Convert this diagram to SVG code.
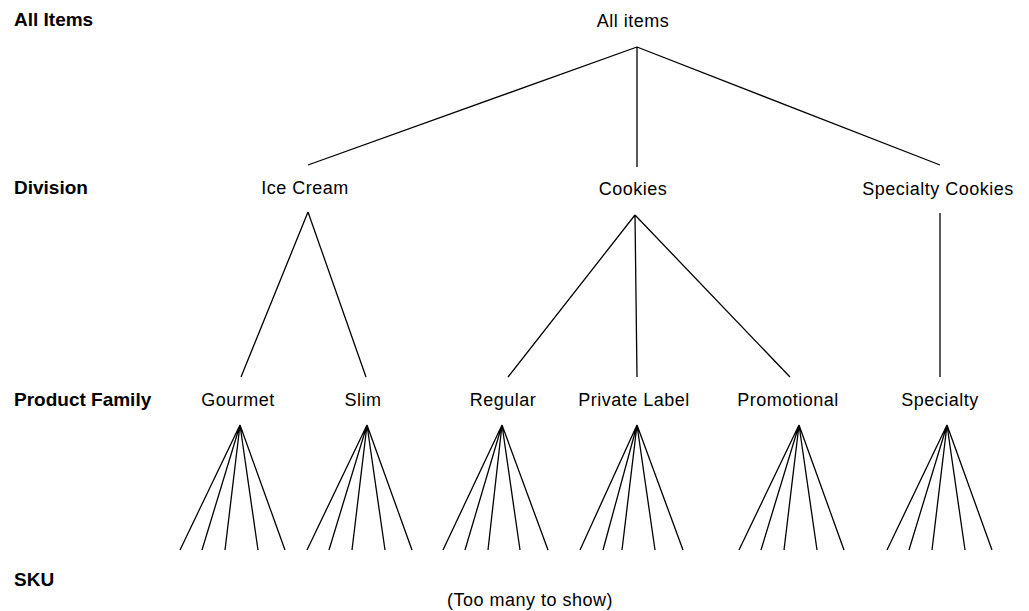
<svg xmlns="http://www.w3.org/2000/svg" width="1029" height="611" viewBox="0 0 1029 611">
<style>
.lvl{font-family:"Liberation Sans",Arial,sans-serif;font-size:19px;font-weight:bold;fill:#000}
.node{font-family:"Liberation Sans",Arial,sans-serif;font-size:18px;letter-spacing:0.5px;fill:#000;text-anchor:middle}
.ln{stroke:#000;stroke-width:1.3;fill:none}
</style>
<rect width="1029" height="611" fill="#fff"/>
<g id="levels">
<text class="lvl" x="14" y="26">All Items</text>
<text class="lvl" x="14" y="194">Division</text>
<text class="lvl" x="14" y="406">Product Family</text>
<text class="lvl" x="14" y="586">SKU</text>
</g>
<g id="connectors" class="ln">
<path d="M637 47L308 165M637 47L637 167M637 47L940 165"/>
<path d="M308 212L241 377M308 212L366 377"/>
<path d="M635 215L508 377M635 215L637 377M635 215L790 377"/>
<path d="M940 213L940 377"/>
<path d="M240 425L180 550M240 425L202 550M240 425L225 550M240 425L258 550M240 425L285 550"/>
<path d="M367 425L307 550M367 425L329 550M367 425L352 550M367 425L385 550M367 425L412 550"/>
<path d="M502 425L443 550M502 425L465 550M502 425L488 550M502 425L520 550M502 425L548 550"/>
<path d="M637 425L580 550M637 425L603 550M637 425L622 550M637 425L655 550M637 425L683 550"/>
<path d="M799 425L739 550M799 425L761 550M799 425L784 550M799 425L817 550M799 425L844 550"/>
<path d="M947 425L887 550M947 425L909 550M947 425L932 550M947 425L965 550M947 425L992 550"/>
</g>
<g id="n-all"><text class="node" x="633" y="27">All items</text></g>
<g id="n-icecream"><text class="node" x="305" y="194">Ice Cream</text></g>
<g id="n-cookies"><text class="node" x="633" y="195">Cookies</text></g>
<g id="n-specialtycookies"><text class="node" x="938" y="195">Specialty Cookies</text></g>
<g id="n-gourmet"><text class="node" x="238" y="406">Gourmet</text></g>
<g id="n-slim"><text class="node" x="363" y="406">Slim</text></g>
<g id="n-regular"><text class="node" x="503" y="406">Regular</text></g>
<g id="n-privatelabel"><text class="node" x="634" y="406">Private Label</text></g>
<g id="n-promotional"><text class="node" x="788" y="406">Promotional</text></g>
<g id="n-specialty"><text class="node" x="940" y="406">Specialty</text></g>
<g id="n-sku"><text class="node" x="530" y="606">(Too many to show)</text></g>
</svg>
